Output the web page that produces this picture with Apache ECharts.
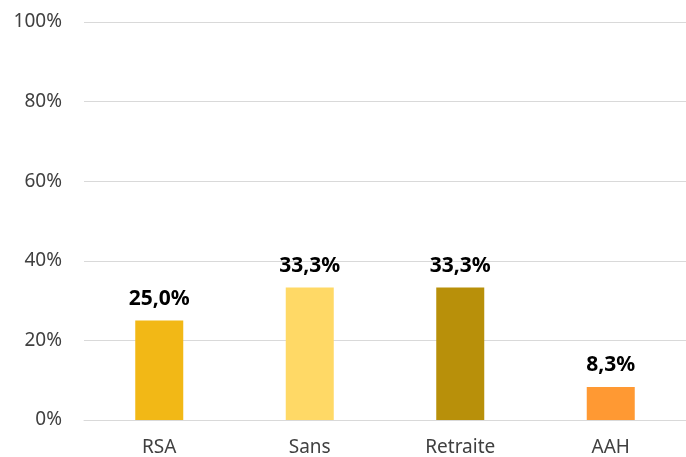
<!DOCTYPE html>
<html>
<head>
<meta charset="utf-8">
<script src="https://cdn.jsdelivr.net/npm/echarts@6/dist/echarts.min.js"></script>
<style>
  html, body { margin: 0; padding: 0; background: #fff; }
  #chart { width: 686px; height: 457px; }
</style>
</head>
<body>
<div id="chart"></div>
<script>
const categories = ['RSA', 'Sans', 'Retraite', 'AAH']
const values = [25.0, 33.3, 33.3, 8.3]
const barColors = ['#F2B816', '#FFD966', '#B8900A', '#FF9933']
const yTicks = [0, 20, 40, 60, 80, 100]

const chart = echarts.init(document.getElementById('chart'))
chart.setOption({
    animation: false,
    textStyle: { fontFamily: '"Noto Sans", "Open Sans", sans-serif' },
    grid: { left: 84, right: -1, top: 22, bottom: 37, containLabel: false },
    xAxis: {
        type: 'category',
        data: categories,
        axisTick: { show: false },
        axisLine: { lineStyle: { color: '#d9d9d9', width: 1 } },
        axisLabel: { color: '#404040', fontSize: 19, margin: 18 }
    },
    yAxis: {
        type: 'value',
        min: yTicks[0],
        max: yTicks[yTicks.length - 1],
        interval: 20,
        axisLine: { show: false },
        axisTick: { show: false },
        splitLine: { lineStyle: { color: '#d9d9d9', width: 1 } },
        axisLabel: {
            color: '#404040',
            fontSize: 19,
            margin: 22,
            formatter: '{value}%'
        }
    },
    series: [{
        type: 'bar',
        barWidth: 48,
        data: values.map((v, i) => ({ value: v, itemStyle: { color: barColors[i] } })),
        label: {
            show: true,
            position: 'top',
            distance: 11,
            color: '#000',
            fontSize: 21,
            fontWeight: 'bold',
            formatter: p => p.value.toFixed(1).replace('.', ',') + '%'
        }
    }]
})
</script>
</body>
</html>
